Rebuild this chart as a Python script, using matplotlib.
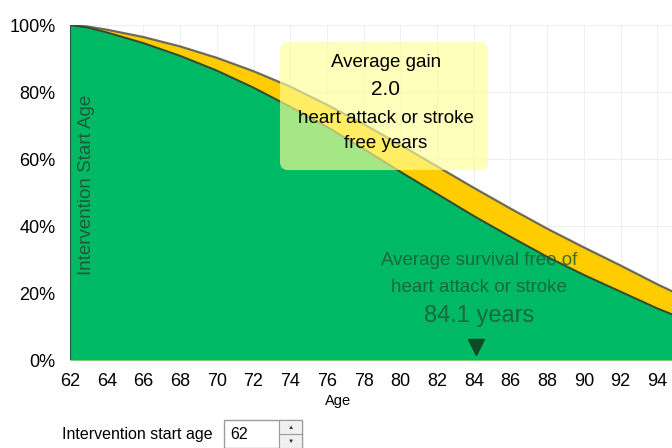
import numpy as np
import matplotlib.pyplot as plt
from matplotlib.patches import FancyBboxPatch, Rectangle
from matplotlib.ticker import PercentFormatter

plt.rcParams['font.family'] = ['Liberation Sans', 'DejaVu Sans']

# survival free of heart attack or stroke (%)
ages = [62, 63, 64, 66, 68, 70, 72, 74, 76, 78, 80, 82, 84, 86, 88, 90, 92, 94, 95]
no_treatment = [100, 99.2, 97.8, 94.6, 90.8, 86.4, 81.3, 75.6, 69.6, 63.0, 56.2, 49.6,
                43.0, 36.8, 30.8, 25.4, 20.4, 15.4, 13.2]
treatment = [100, 99.5, 98.6, 96.4, 93.6, 90.2, 86.2, 81.6, 76.2, 70.4, 64.2, 57.8,
             51.4, 45.2, 39.2, 33.6, 28.2, 22.6, 20.0]

start_age = 62
avg_gain = 2.0
avg_survival = 84.1
x_ticks = list(range(62, 96, 2))

fig = plt.figure(figsize=(6.72, 4.48), dpi=100)
ax = fig.add_axes([70 / 672, 88 / 448, 1 - 70 / 672, 335 / 448])

green = '#00b965'
yellow = '#ffcc00'

ax.fill_between(ages, 0, treatment, color=yellow, lw=0, zorder=2)
ax.plot(ages, treatment, color='#6e6a55', lw=1.6, zorder=3)
ax.fill_between(ages, 0, no_treatment, color=green, lw=0, zorder=4)
ax.plot(ages, no_treatment, color='#2f4a2f', lw=1.4, zorder=5)
ax.axvline(start_age, color='#1f5a3a', lw=1.6, zorder=6)

ax.set_xlim(62, 94.8)
ax.set_ylim(0, 100)
ax.set_xticks(x_ticks)
ax.set_yticks([0, 20, 40, 60, 80, 100])
ax.yaxis.set_major_formatter(PercentFormatter(decimals=0))
ax.tick_params(length=0, labelsize=13)
ax.tick_params(axis='y', pad=10.5)
ax.tick_params(axis='x', pad=9.5)
ax.grid(color='#efefef', lw=0.8, zorder=0)
for s in ax.spines.values():
    s.set_visible(False)

ax.text(62.45, 52.2, 'Intervention Start Age', rotation=90, color='#1f5a3a',
        fontsize=13.5, ha='left', va='center', zorder=7)

# average gain box
box = FancyBboxPatch((73.44, 56.7), 11.34, 38.2, boxstyle='round,pad=0,rounding_size=0.45',
                     fc='#ffff99', ec='none', alpha=0.65, zorder=8,
                     mutation_aspect=5.5)
ax.add_patch(box)
bx = 79.2
ax.text(bx, 88.8, 'Average gain', ha='center', va='center', fontsize=13.5, zorder=9)
ax.text(bx, 80.6, f'{avg_gain:.1f}', ha='center', va='center', fontsize=15, zorder=9)
ax.text(bx, 72.2, 'heart attack or stroke', ha='center', va='center', fontsize=13.5, zorder=9)
ax.text(bx, 64.5, 'free years', ha='center', va='center', fontsize=13.5, zorder=9)

# average survival annotation
dark = '#1e5c36'
ax.text(84.3, 29.6, 'Average survival free of', ha='center', va='center',
        fontsize=13.5, color=dark, alpha=0.85, zorder=9)
ax.text(84.3, 21.6, 'heart attack or stroke', ha='center', va='center',
        fontsize=13.5, color=dark, alpha=0.85, zorder=9)
ax.text(84.3, 13.0, f'{avg_survival} years', ha='center', va='center',
        fontsize=17, color=dark, alpha=0.85, zorder=9)
ax.plot([avg_survival], [4.0], marker='v', ms=12, color='#0f4a28', zorder=9)

fig.text(338 / 672, 1 - 401 / 448, 'Age', ha='center', va='center', fontsize=10.5)

# start age input widget
fig.text(62 / 672, 1 - 434 / 448, 'Intervention start age', ha='left', va='center', fontsize=11.5)
fig.patches.append(Rectangle((224 / 672, 0), 78 / 672, 28 / 448, transform=fig.transFigure,
                             fc='white', ec='#9a9a9a', lw=1))
fig.patches.append(Rectangle((279 / 672, 0), 23 / 672, 28 / 448, transform=fig.transFigure,
                             fc='#f0f0f0', ec='#9a9a9a', lw=0.8))
fig.lines.append(plt.Line2D([279 / 672, 302 / 672], [14 / 448, 14 / 448],
                            transform=fig.transFigure, color='#9a9a9a', lw=0.8))
fig.text(230 / 672, 1 - 434 / 448, str(start_age), ha='left', va='center', fontsize=11.5)
fig.text(290.5 / 672, 1 - 427 / 448, '▲', ha='center', va='center', fontsize=4.5, color='#333333')
fig.text(290.5 / 672, 1 - 441 / 448, '▼', ha='center', va='center', fontsize=4.5, color='#333333')

fig.savefig('out.png', dpi=100)
